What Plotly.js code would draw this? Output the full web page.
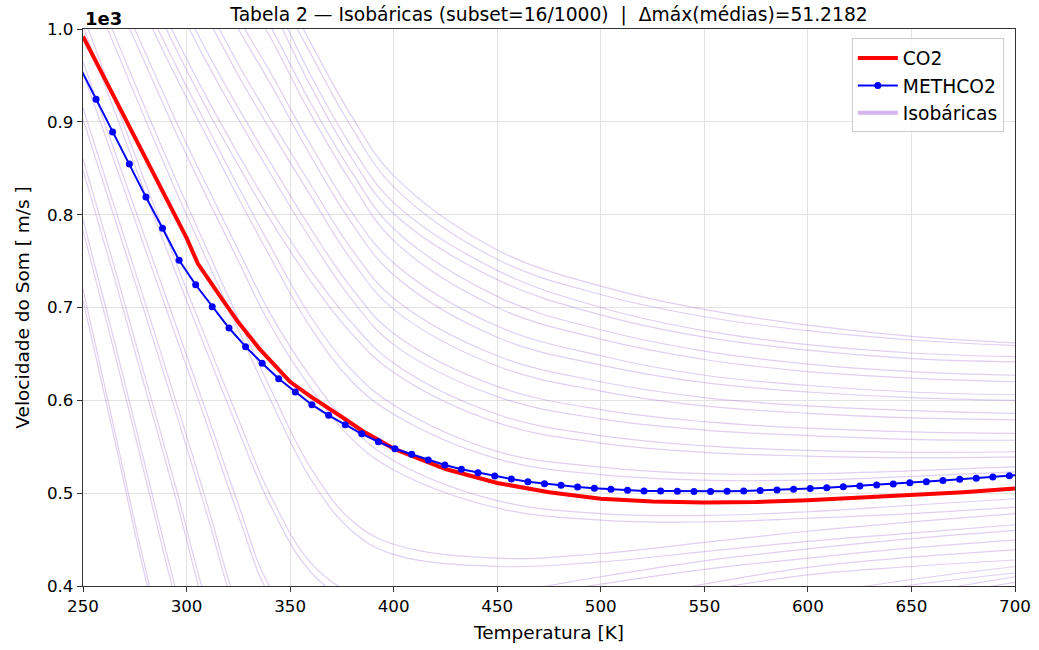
<!DOCTYPE html>
<html>
<head>
<meta charset="utf-8">
<script src="https://cdn.plot.ly/plotly-3.0.1.min.js"></script>
<style>
html,body{margin:0;padding:0;background:#fff;}
#chart{width:1039px;height:650px;}
</style>
</head>
<body>
<div id="chart"></div>
<script>
// ---- CO2 (red) ----
const T_co2 = [250, 260, 270, 280, 290, 300, 305.5, 310, 317.5, 325, 335, 350, 360, 375, 385, 400, 425, 450, 475, 500, 525, 550, 575, 600, 625, 650, 675, 700];
const v_co2 = [992, 949, 905, 862, 818, 775, 747, 732, 708, 684, 656, 620, 604, 582, 567, 548, 526, 511, 501, 494, 491, 490, 490.5, 492.5, 495, 498, 501, 505];

// ---- METHCO2 (blue, markers) ----
const T_meth = [248.3, 256.3, 264.3, 272.4, 280.4, 288.4, 296.4, 304.4, 312.4, 320.5, 328.5, 336.5, 344.5, 352.5, 360.5, 368.6, 376.6, 384.6, 392.6, 400.6, 408.7, 416.7, 424.7, 432.7, 440.7, 448.8, 456.8, 464.8, 472.8, 480.8, 488.8, 496.9, 504.9, 512.9, 520.9, 528.9, 537.0, 545.0, 553.0, 561.0, 569.0, 577.0, 585.1, 593.1, 601.1, 609.1, 617.1, 625.1, 633.2, 641.2, 649.2, 657.2, 665.2, 673.3, 681.3, 689.3, 697.3, 705.3];
const v_meth = [959.6, 924.3, 889.0, 854.6, 818.9, 785.3, 750.8, 724.5, 700.8, 677.9, 657.8, 639.9, 623.3, 609.0, 595.3, 583.9, 573.7, 564.0, 555.4, 547.9, 541.9, 535.7, 530.3, 525.7, 522.0, 518.5, 515.2, 512.3, 510.2, 508.5, 506.6, 505.2, 504.1, 503.1, 502.4, 502.2, 502.0, 501.9, 501.8, 502.0, 502.4, 502.9, 503.5, 504.2, 505.0, 505.8, 506.8, 507.8, 508.9, 510.0, 511.2, 512.4, 513.6, 514.9, 516.2, 517.5, 518.8, 520.2];

// ---- Isobáricas (temperature grid shared by all isobars) ----
const T_iso = [250, 265, 280, 295, 310, 325, 340, 360, 380, 400, 450, 500, 550, 600, 650, 700];
const iso_a1 = [720, 570, 420, 290, 240, 225, 220, 220, 222, 226, 240, 258, 276, 294, 310, 325];
const iso_a2 = [708, 560, 410, 282, 233, 218, 213, 213, 215, 219, 233, 251, 269, 287, 303, 318];
const iso_b1 = [795, 665, 530, 395, 280, 240, 232, 232, 236, 242, 262, 285, 306, 326, 344, 360];
const iso_b2 = [783, 653, 518, 383, 270, 232, 224, 224, 228, 234, 254, 277, 299, 319, 337, 353];
const iso_c1 = [860, 745, 625, 505, 380, 290, 265, 258, 262, 270, 295, 322, 346, 370, 391, 410];
const iso_c2 = [848, 733, 613, 493, 368, 280, 256, 249, 253, 261, 287, 314, 339, 364, 385, 404];
const iso_d1 = [915, 810, 705, 598, 488, 375, 305, 290, 292, 298, 320, 345, 368, 390, 407, 421];
const iso_d2 = [903, 798, 693, 586, 476, 364, 296, 281, 283, 289, 312, 338, 361, 384, 401, 414];
const iso_e1 = [965, 870, 775, 680, 585, 488, 400, 345, 330, 332, 352, 380, 402, 420, 431, 439];
const iso_e2 = [953, 858, 763, 668, 573, 476, 390, 336, 321, 323, 344, 372, 395, 412, 421, 428];
const iso_f1 = [1015, 925, 835, 748, 663, 580, 500, 425, 392, 384, 392, 410, 427, 440, 451, 460];
const iso_f2 = [1003, 913, 823, 736, 651, 568, 489, 415, 382, 374, 383, 402, 418, 430, 441, 449.5];
const iso_g1 = [1075, 995, 915, 837, 762, 688, 615, 527, 470, 445, 430, 435, 447, 459, 469, 478];
const iso_g2 = [1063, 983, 903, 825, 750, 676, 603, 515, 459, 434, 421, 426, 437, 448, 457, 466];
const iso_h1 = [1130, 1050, 975, 900, 830, 762, 695, 625, 570, 535, 492, 478, 476, 480, 487, 494];
const iso_h2 = [1118, 1038, 963, 888, 818, 750, 683, 613, 558, 525, 484, 471, 469, 473, 478, 485];
const iso_i1 = [1200, 1115, 1030, 960, 895, 830, 768, 690, 632, 595, 545, 528, 521, 521, 524, 528.5];
const iso_i2 = [1188, 1103, 1018, 948, 883, 818, 756, 678, 620, 585, 537, 520, 514, 514, 518, 523];
const iso_j1 = [1210, 1135, 1060, 990, 925, 865, 808, 740, 683, 640, 585, 562, 551, 546, 544, 544.6];
const iso_j2 = [1198, 1123, 1048, 978, 913, 853, 796, 728, 671, 630, 576, 554, 544, 540, 538, 539];
const iso_k1 = [1260, 1185, 1110, 1040, 975, 915, 858, 785, 720, 672, 615, 590, 577, 570, 566, 564.5];
const iso_k2 = [1248, 1173, 1098, 1028, 963, 903, 846, 773, 708, 660, 604, 580, 568, 562, 558, 557];
const iso_l1 = [1310, 1235, 1160, 1090, 1025, 962, 905, 832, 762, 710, 648, 620, 603, 594, 589, 586];
const iso_l2 = [1298, 1223, 1148, 1078, 1013, 950, 893, 820, 750, 698, 637, 610, 594, 586, 581, 579];
const iso_m1 = [1360, 1285, 1210, 1140, 1075, 1012, 955, 875, 802, 748, 680, 648, 627, 616, 609, 606];
const iso_m2 = [1348, 1273, 1198, 1128, 1063, 1000, 943, 863, 790, 735, 668, 638, 619, 609, 603, 600];
const iso_n1 = [1410, 1335, 1260, 1190, 1125, 1062, 1005, 920, 845, 785, 712, 676, 653, 639, 631, 627];
const iso_n2 = [1398, 1323, 1248, 1178, 1113, 1050, 993, 908, 833, 772, 700, 666, 644, 631, 624, 620];
const iso_o1 = [1450, 1375, 1300, 1230, 1165, 1100, 1040, 950, 872, 813, 740, 700, 675, 660, 651, 647];
const iso_o2 = [1438, 1363, 1288, 1218, 1153, 1088, 1028, 938, 860, 801, 730, 692, 668, 654, 645, 641.5];
const iso_p1 = [1500, 1420, 1345, 1275, 1205, 1140, 1070, 985, 905, 842, 762, 723, 698, 681, 669, 662];
const iso_p2 = [1488, 1408, 1333, 1263, 1193, 1128, 1058, 973, 893, 830, 752, 714, 690, 675, 665, 659];

// ---- axis ticks ----
const xTicks = [250, 300, 350, 400, 450, 500, 550, 600, 650, 700];
const yTicks = [400, 500, 600, 700, 800, 900, 1000];
const yTickText = ['0.4', '0.5', '0.6', '0.7', '0.8', '0.9', '1.0'];

const titleText = 'Tabela 2 — Isobáricas (subset=16/1000)  |  Δmáx(médias)=51.2182';

const isobars = [iso_a1, iso_a2, iso_b1, iso_b2, iso_c1, iso_c2, iso_d1, iso_d2,
  iso_e1, iso_e2, iso_f1, iso_f2, iso_g1, iso_g2, iso_h1, iso_h2,
  iso_i1, iso_i2, iso_j1, iso_j2, iso_k1, iso_k2, iso_l1, iso_l2,
  iso_m1, iso_m2, iso_n1, iso_n2, iso_o1, iso_o2, iso_p1, iso_p2];

const FONT = 'DejaVu Sans, Liberation Sans, sans-serif';
const traces = [];
isobars.forEach(function (vals) {
  traces.push({
    x: T_iso, y: vals, type: 'scatter', mode: 'lines',
    line: {color: 'rgba(150,95,210,0.30)', width: 1.2, shape: 'spline', smoothing: 1.1},
    showlegend: false, hoverinfo: 'skip'
  });
});
traces.push({
  x: [null], y: [null], type: 'scatter', mode: 'lines', name: 'Isobáricas',
  line: {color: 'rgb(214,180,236)', width: 4}, legendrank: 3
});
traces.push({
  x: T_co2, y: v_co2, type: 'scatter', mode: 'lines', name: 'CO2',
  line: {color: '#ff0000', width: 4}, legendrank: 1
});
traces.push({
  x: T_meth, y: v_meth, type: 'scatter', mode: 'lines+markers', name: 'METHCO2',
  line: {color: '#0000ff', width: 2}, marker: {color: '#0000ff', size: 7}, legendrank: 2
});

const layout = {
  width: 1039, height: 650,
  margin: {l: 83, r: 24, t: 29, b: 64},
  paper_bgcolor: '#ffffff', plot_bgcolor: '#ffffff',
  font: {family: FONT, size: 16.7, color: '#000'},
  title: {text: titleText, font: {family: FONT, size: 18.7, color: '#000'},
    xref: 'paper', x: 0.5, xanchor: 'center', yref: 'container', y: 0.978, yanchor: 'middle'},
  xaxis: {
    range: [250, 700], tickvals: xTicks, ticks: 'outside', ticklen: 5, tickcolor: '#333',
    showline: true, linecolor: '#333', linewidth: 1.2, mirror: true,
    showgrid: true, gridcolor: '#e3e3e3', gridwidth: 1, zeroline: false,
    tickfont: {family: FONT, size: 16.7},
    title: {text: 'Temperatura [K]', font: {family: FONT, size: 18.5}, standoff: 10}
  },
  yaxis: {
    range: [400, 1000], tickvals: yTicks, ticktext: yTickText, ticks: 'outside', ticklen: 5, tickcolor: '#333',
    showline: true, linecolor: '#333', linewidth: 1.2, mirror: true,
    showgrid: true, gridcolor: '#e3e3e3', gridwidth: 1, zeroline: false,
    tickfont: {family: FONT, size: 16.7},
    title: {text: 'Velocidade do Som [ m/s ]', font: {family: FONT, size: 18.5}, standoff: 12}
  },
  legend: {
    x: 0.988, xanchor: 'right', y: 0.983, yanchor: 'top',
    bgcolor: 'rgba(255,255,255,0.85)', bordercolor: '#cccccc', borderwidth: 1,
    font: {family: FONT, size: 18.7}, itemwidth: 40, tracegroupgap: 2
  },
  annotations: [{
    text: '<b>1e3</b>', xref: 'paper', yref: 'paper', x: 0, y: 1, xanchor: 'left', yanchor: 'bottom',
    showarrow: false, font: {family: FONT, size: 18, color: '#000'}, yshift: -2
  }],
  showlegend: true
};

Plotly.newPlot('chart', traces, layout, {displayModeBar: false, staticPlot: true});
</script>
</body>
</html>
